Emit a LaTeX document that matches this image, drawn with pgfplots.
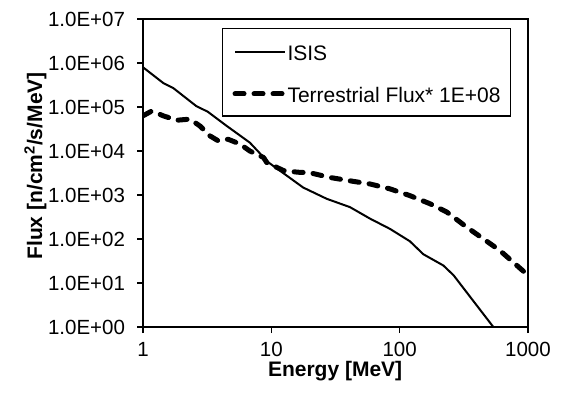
\documentclass[border=0pt]{standalone}
\usepackage{fontspec}
\setmainfont{Liberation Sans}
\usepackage{pgfplots}
\pgfplotsset{compat=1.18}

\begin{document}
\fontsize{20.5}{24}\selectfont
\begin{tikzpicture}
\useasboundingbox (0,0) rectangle (563pt,392pt);
\begin{axis}[
  at={(143pt,65pt)}, anchor=south west,
  width=385pt, height=308pt, scale only axis,
  xmode=log, ymode=log,
  xmin=1, xmax=1000, ymin=1, ymax=1e7,
  xtick={1,10,100,1000}, xticklabels={1,10,100,1000},
  ytick={1,10,100,1000,1e4,1e5,1e6,1e7},
  yticklabels={1.0E+00,1.0E+01,1.0E+02,1.0E+03,1.0E+04,1.0E+05,1.0E+06,1.0E+07},
  xminorticks=false, yminorticks=false,
  tick align=outside, xtick pos=bottom, ytick pos=left,
  major tick length=6pt,
  every tick/.style={black, line width=1.2pt},
  axis line style={line width=1.2pt},
  tick label style={font=\fontsize{20.5}{24}\selectfont},
  yticklabel style={xshift=-5pt},
  xticklabel style={yshift=-2pt},
  label style={font=\bfseries\fontsize{21}{25}\selectfont},
  xlabel={Energy [MeV]},
  ylabel={Flux [n/cm\textsuperscript{2}/s/MeV]},
  xlabel style={at={(axis description cs:0.499,-0.162)}, anchor=base},
  ylabel style={at={(axis description cs:-0.262,0.523)}, anchor=base},
  legend cell align=left,
  legend style={at={(0.205,0.971)}, anchor=north west, draw=black,
    line width=1.2pt, fill=white, inner xsep=10pt, inner ysep=11.3pt,
    row sep=19.5pt, column sep=0pt,
    font=\fontsize{21}{25}\selectfont,
    nodes={inner sep=0pt, text height=20.7pt, text depth=2pt}},
  legend image code/.code={\draw[#1] (0pt,-0.5pt) -- (50pt,-0.5pt);},
  after end axis/.code={
    \draw[line width=1.2pt] (rel axis cs:0,0) rectangle (rel axis cs:1,1);},
]
% ISIS spectrum
\addplot[black, line width=2pt, line join=round] coordinates {
  (1,8.0e5) (1.44,3.5e5) (1.72,2.7e5) (2.6,1.05e5) (3.2,7.8e4)
  (4.5,3.7e4) (6.8,1.55e4) (9.5,5.5e3) (13.2,2.75e3) (17.7,1.48e3)
  (27,820) (41,530) (58.8,290) (84,170) (120,89) (153,45)
  (219,25) (263,15) (537,1.0) (600,0.66)
};
\addlegendentry{ISIS}
% terrestrial neutron flux, scaled by 1E+08
\addplot[black, line width=5pt, line cap=round, line join=round,
  dash pattern=on 9pt off 10pt] coordinates {
  (1,6.3e4) (1.17,8.1e4) (1.44,6.3e4) (1.83,5.0e4) (2.32,5.3e4)
  (2.78,3.7e4) (3.33,2.2e4) (3.86,1.7e4) (4.6,1.85e4) (5.7,1.44e4)
  (6.8,1.0e4) (8.7,7.1e3) (9.2,5.5e3) (12.4,3.6e3) (16,3.3e3)
  (20,3.2e3) (28.7,2.5e3) (41,2.1e3) (58.8,1.78e3) (84,1.38e3)
  (120,970) (173,630) (233,410) (333,186) (603,55) (1000,15)
};
\addlegendentry{Terrestrial Flux* 1E+08}
\end{axis}
\end{tikzpicture}
\end{document}
